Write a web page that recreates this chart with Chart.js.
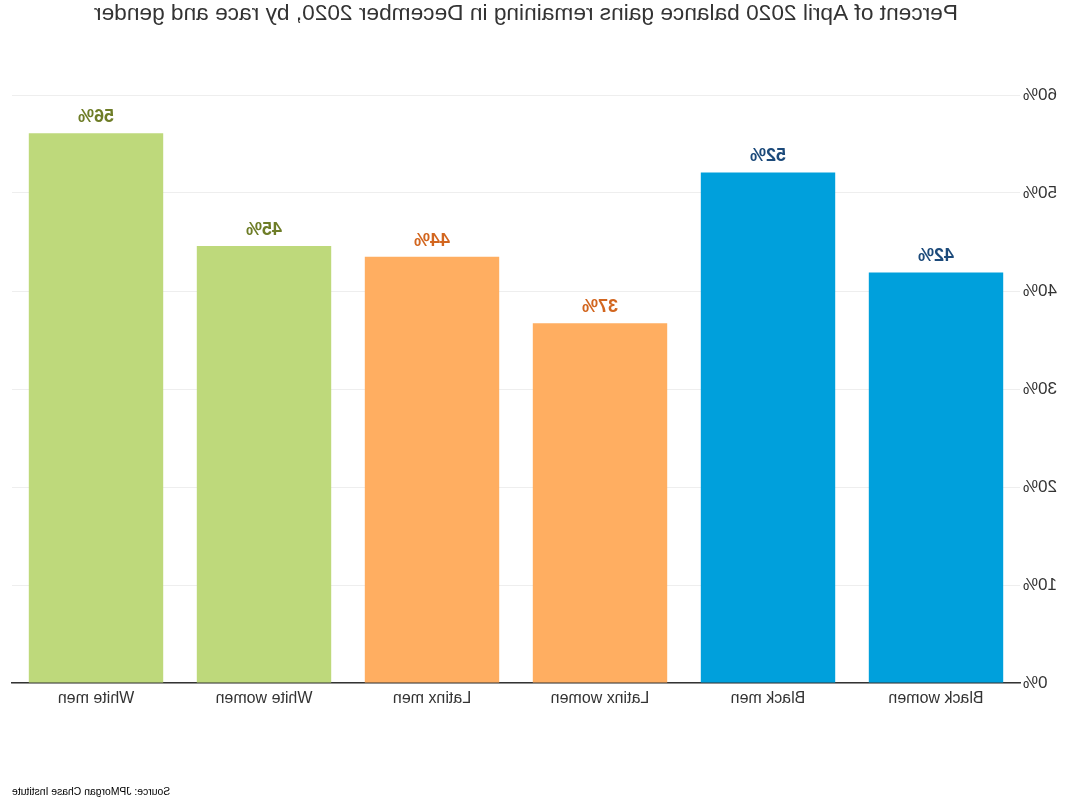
<!DOCTYPE html>
<html>
<head>
<meta charset="utf-8">
<script src="https://cdn.jsdelivr.net/npm/chart.js@4/dist/chart.umd.min.js"></script>
<style>
  html, body { margin: 0; padding: 0; background: #fff; }
  #wrap { width: 1071px; height: 801px; transform: scaleX(-1); }
</style>
</head>
<body>
<div id="wrap"><canvas id="chart" width="1071" height="801"></canvas></div>
<script>
(function() {
  'use strict';

  // Data (left-to-right in the unflipped chart)
  const categories = ['Black women', 'Black men', 'Latinx women', 'Latinx men', 'White women', 'White men'];
  const shares = [41.9, 52.1, 36.7, 43.5, 44.6, 56.1];
  const yTicks = [0, 10, 20, 30, 40, 50, 60];

  const title = 'Percent of April 2020 balance gains remaining in December 2020, by race and gender';
  const source = 'Source: JPMorgan Chase Institute';

  // Styles
  const BLUE = '#00a0dc', ORANGE = '#ffae61', GREEN = '#bed97b';
  const barColors = [BLUE, BLUE, ORANGE, ORANGE, GREEN, GREEN];
  const labelColors = ['#1c4a7a', '#1c4a7a', '#d2661f', '#d2661f', '#6e7d27', '#6e7d27'];
  const FONT = '"Liberation Sans", Arial, Helvetica, sans-serif';

  const extras = {
    id: 'extras',
    afterDatasetsDraw(chart) {
      const ctx = chart.ctx;
      const meta = chart.getDatasetMeta(0);
      ctx.save();
      ctx.font = 'bold 18px ' + FONT;
      ctx.textAlign = 'center';
      ctx.textBaseline = 'middle';
      meta.data.forEach((bar, i) => {
        ctx.fillStyle = labelColors[i];
        ctx.fillText(Math.round(shares[i]) + '%', bar.x, bar.y - 16);
      });
      ctx.restore();
    },
    afterDraw(chart) {
      const ctx = chart.ctx;
      ctx.save();
      ctx.fillStyle = '#333';
      ctx.font = '22.7px ' + FONT;
      ctx.textAlign = 'center';
      ctx.textBaseline = 'middle';
      ctx.fillText(title, 545, 14);
      ctx.fillStyle = '#000';
      ctx.font = '10.4px ' + FONT;
      ctx.textAlign = 'right';
      ctx.fillText(source, 1059, 792);
      ctx.restore();
    }
  };

  new Chart(document.getElementById('chart'), {
    type: 'bar',
    data: {
      labels: categories,
      datasets: [{
        data: shares,
        backgroundColor: barColors,
        borderWidth: 0,
        barPercentage: 0.8,
        categoryPercentage: 1
      }]
    },
    options: {
      responsive: false,
      animation: false,
      layout: { padding: { left: 0, right: 12, top: 95, bottom: 0 } },
      plugins: {
        legend: { display: false },
        title: { display: false },
        tooltip: { enabled: false }
      },
      scales: {
        x: {
          grid: { display: false, drawTicks: false },
          border: { display: true, color: '#333', width: 1.5 },
          ticks: { color: '#333', font: { family: FONT, size: 16 }, padding: 6 },
          afterFit(axis) { axis.height = 118; }
        },
        y: {
          min: 0,
          max: 60,
          afterBuildTicks(axis) { axis.ticks = yTicks.map(v => ({ value: v })); },
          grid: { color: '#eeeeee', drawTicks: false },
          border: { display: false },
          ticks: {
            color: '#333',
            font: { family: FONT, size: 17 },
            padding: 3,
            callback: v => v + '%'
          },
          afterFit(axis) { axis.width = 51; }
        }
      }
    },
    plugins: [extras]
  });
})();
</script>
</body>
</html>
